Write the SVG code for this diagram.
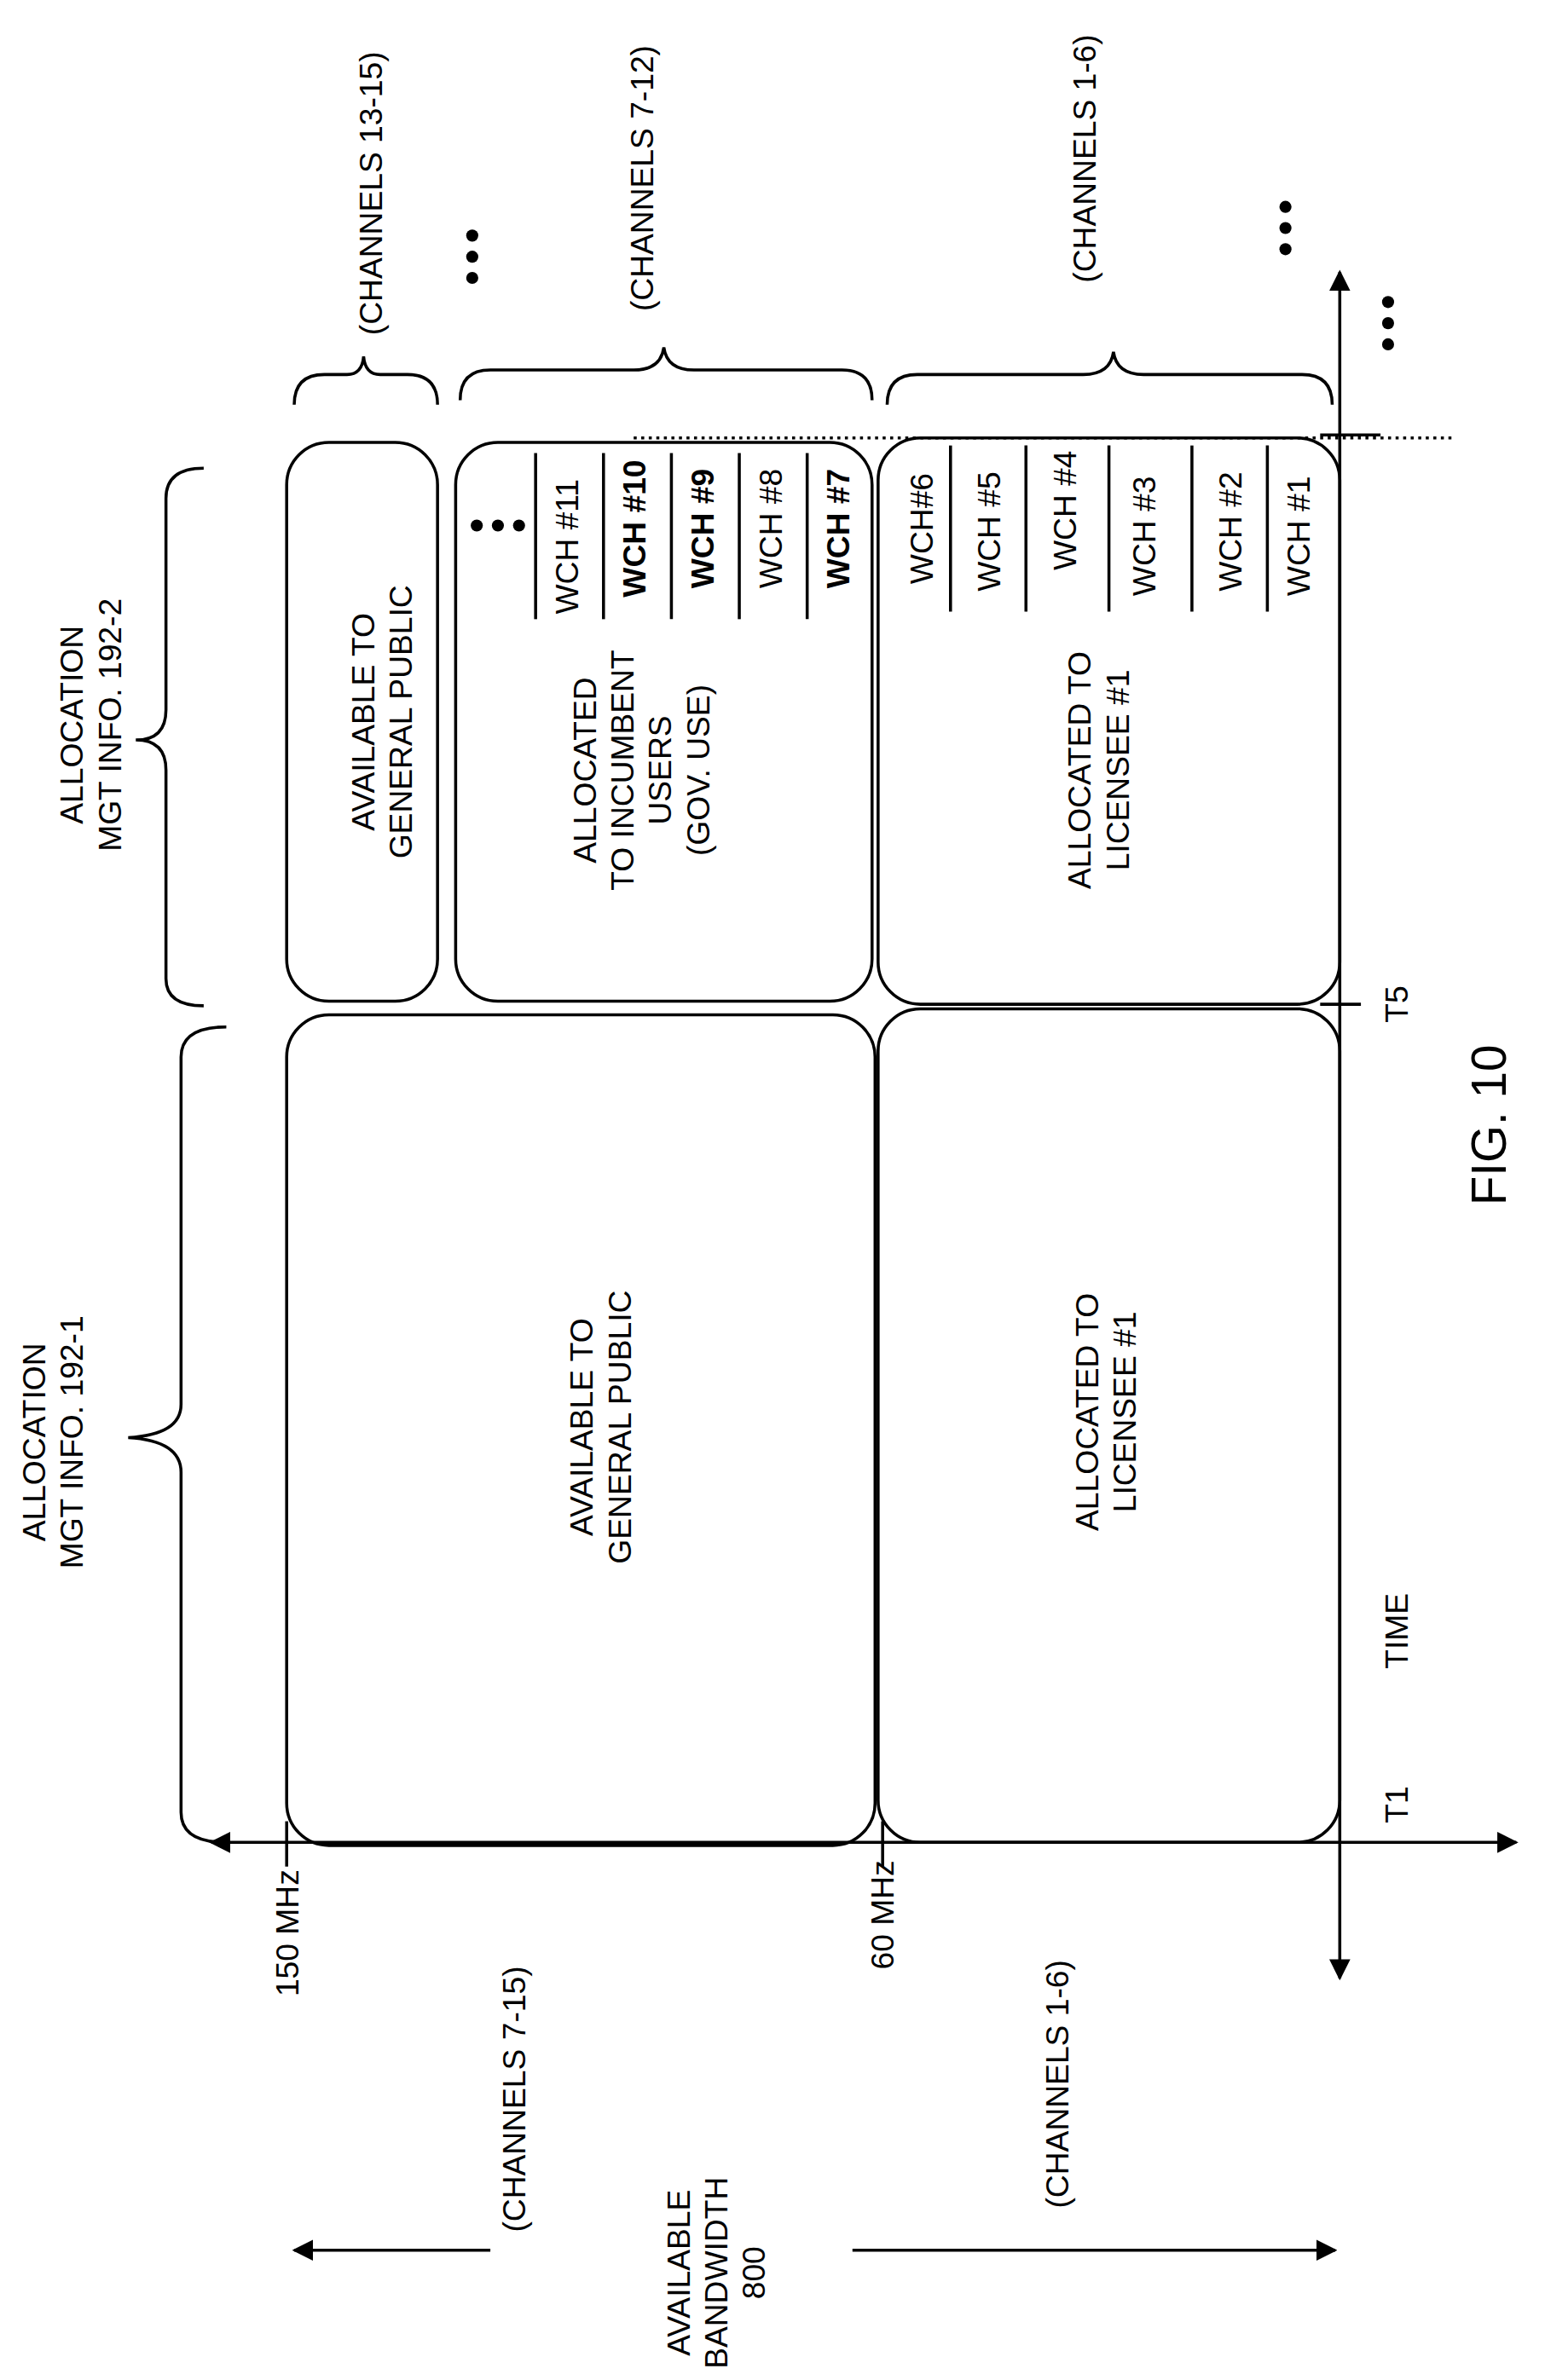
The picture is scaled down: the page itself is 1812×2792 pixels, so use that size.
<svg xmlns="http://www.w3.org/2000/svg" width="1812" height="2792" viewBox="0 0 1812 2792">
<defs>
<style>
text{font-family:"Liberation Sans",Arial,sans-serif;font-size:21px;fill:#000;text-anchor:middle}
.b{font-weight:bold}
.box{fill:none;stroke:#000;stroke-width:2}
.ln{fill:none;stroke:#000;stroke-width:2}
</style>
<marker id="ah" viewBox="0 0 10 10" refX="9" refY="5" markerWidth="14" markerHeight="14" markerUnits="userSpaceOnUse" orient="auto"><path d="M0,0L10,5L0,10z" fill="#000"/></marker>
</defs>
<rect width="1812" height="2792" fill="#fff"/>
<g transform="scale(1.7695,1.7716)">
<g id="connectors">
<line class="ln" x1="590" y1="1220" x2="140" y2="1220" marker-end="url(#ah)"/>
<line class="ln" x1="590" y1="1220" x2="1005" y2="1220" marker-end="url(#ah)"/>
<line class="ln" x1="888" y1="760" x2="888" y2="180" marker-end="url(#ah)"/>
<line class="ln" x1="888" y1="760" x2="888" y2="1310" marker-end="url(#ah)"/>
<line class="ln" x1="190" y1="1206" x2="190" y2="1236"/>
<line class="ln" x1="585" y1="1206" x2="585" y2="1236"/>
<line class="ln" x1="875" y1="665" x2="902" y2="665"/>
<line class="ln" x1="875" y1="288" x2="915" y2="288"/>
<line x1="420" y1="290" x2="962" y2="290" stroke="#000" stroke-width="2" stroke-dasharray="2,3"/>
<line class="ln" x1="325" y1="1490" x2="195" y2="1490" marker-end="url(#ah)"/>
<line class="ln" x1="565" y1="1490" x2="885" y2="1490" marker-end="url(#ah)"/>
<path class="ln" d="M150,680 Q120,680 120,700 L120,930 Q120,950 85,952 Q120,954 120,975 L120,1200 Q120,1220 150,1220"/>
<path class="ln" d="M135,310 Q110,310 110,330 L110,470 Q110,490 90,490 Q110,490 110,510 L110,648 Q110,666 135,666"/>
<path class="ln" d="M195,268 Q195,248 215,248 L230,248 Q240,248 241,236 Q242,248 252,248 L270,248 Q290,248 290,268"/>
<path class="ln" d="M305,265 Q305,245 325,245 L420,245 Q438,245 440,230 Q442,245 460,245 L558,245 Q578,245 578,265"/>
<path class="ln" d="M588,268 Q588,248 608,248 L718,248 Q736,248 738,233 Q740,248 758,248 L863,248 Q883,248 883,268"/>
</g>
<g id="boxA"><rect class="box" x="190" y="672" width="390" height="550" rx="28"/>
<text transform="translate(398,945) rotate(-90)"><tspan x="0" y="-5">AVAILABLE TO</tspan><tspan x="0" y="20">GENERAL PUBLIC</tspan></text></g>
<g id="boxB"><rect class="box" x="582" y="668" width="306" height="552" rx="28"/>
<text transform="translate(733,935) rotate(-90)"><tspan x="0" y="-5">ALLOCATED TO</tspan><tspan x="0" y="20">LICENSEE #1</tspan></text></g>
<g id="boxC"><rect class="box" x="190" y="293" width="100" height="370" rx="28"/>
<text transform="translate(253,478) rotate(-90)"><tspan x="0" y="-5">AVAILABLE TO</tspan><tspan x="0" y="20">GENERAL PUBLIC</tspan></text></g>
<g id="boxD"><rect class="box" x="302" y="293" width="276" height="370" rx="28"/>
<text transform="translate(425,510) rotate(-90)"><tspan x="0" y="-30">ALLOCATED</tspan><tspan x="0" y="-5">TO INCUMBENT</tspan><tspan x="0" y="20">USERS</tspan><tspan x="0" y="45">(GOV. USE)</tspan></text>
<g class="ln"><line x1="355" y1="300" x2="355" y2="410"/><line x1="400" y1="300" x2="400" y2="410"/><line x1="445" y1="300" x2="445" y2="410"/><line x1="490" y1="300" x2="490" y2="410"/><line x1="535" y1="300" x2="535" y2="410"/></g>
<text transform="translate(383,362) rotate(-90)">WCH #11</text>
<text class="b" transform="translate(428,350) rotate(-90)">WCH #10</text>
<text class="b" transform="translate(473,350) rotate(-90)">WCH #9</text>
<text transform="translate(518,350) rotate(-90)">WCH #8</text>
<text class="b" transform="translate(563,350) rotate(-90)">WCH #7</text>
<circle cx="316" cy="348" r="4"/><circle cx="330" cy="348" r="4"/><circle cx="344" cy="348" r="4"/></g>
<g id="boxE"><rect class="box" x="582" y="290" width="306" height="375" rx="28"/>
<text transform="translate(728,510) rotate(-90)"><tspan x="0" y="-5">ALLOCATED TO</tspan><tspan x="0" y="20">LICENSEE #1</tspan></text>
<g class="ln"><line x1="630" y1="295" x2="630" y2="405"/><line x1="680" y1="295" x2="680" y2="405"/><line x1="735" y1="295" x2="735" y2="405"/><line x1="790" y1="295" x2="790" y2="405"/><line x1="840" y1="295" x2="840" y2="405"/></g>
<text transform="translate(618,350) rotate(-90)">WCH#6</text>
<text transform="translate(663,352) rotate(-90)">WCH #5</text>
<text transform="translate(713,338) rotate(-90)">WCH #4</text>
<text transform="translate(766,355) rotate(-90)">WCH #3</text>
<text transform="translate(823,352) rotate(-90)">WCH #2</text>
<text transform="translate(868,355) rotate(-90)">WCH #1</text></g>
<g id="dots"><circle cx="313" cy="156" r="4"/><circle cx="313" cy="170" r="4"/><circle cx="313" cy="184" r="4"/>
<circle cx="852" cy="137" r="4"/><circle cx="852" cy="151" r="4"/><circle cx="852" cy="165" r="4"/>
<circle cx="920" cy="200" r="4"/><circle cx="920" cy="214" r="4"/><circle cx="920" cy="228" r="4"/></g>
<g id="labels">
<text transform="translate(253,128) rotate(-90)">(CHANNELS 13-15)</text>
<text transform="translate(433,118) rotate(-90)">(CHANNELS 7-12)</text>
<text transform="translate(726,105) rotate(-90)">(CHANNELS 1-6)</text>
<text transform="translate(60,480) rotate(-90)"><tspan x="0" y="-5">ALLOCATION</tspan><tspan x="0" y="20">MGT INFO. 192-2</tspan></text>
<text transform="translate(35,955) rotate(-90)"><tspan x="0" y="-5">ALLOCATION</tspan><tspan x="0" y="20">MGT INFO. 192-1</tspan></text>
<text transform="translate(198,1280) rotate(-90)">150 MHz</text>
<text transform="translate(592,1268) rotate(-90)">60 MHz</text>
<text transform="translate(348,1390) rotate(-90)">(CHANNELS 7-15)</text>
<text transform="translate(708,1380) rotate(-90)">(CHANNELS 1-6)</text>
<text transform="translate(475,1505) rotate(-90)"><tspan x="0" y="-18">AVAILABLE</tspan><tspan x="0" y="7">BANDWIDTH</tspan><tspan x="0" y="32">800</tspan></text>
<text transform="translate(933,1195) rotate(-90)">T1</text>
<text transform="translate(933,665) rotate(-90)">T5</text>
<text transform="translate(933,1080) rotate(-90)">TIME</text>
<text transform="translate(998,745) rotate(-90)" style="font-size:32px">FIG. 10</text>
</g>
</g>
</svg>
